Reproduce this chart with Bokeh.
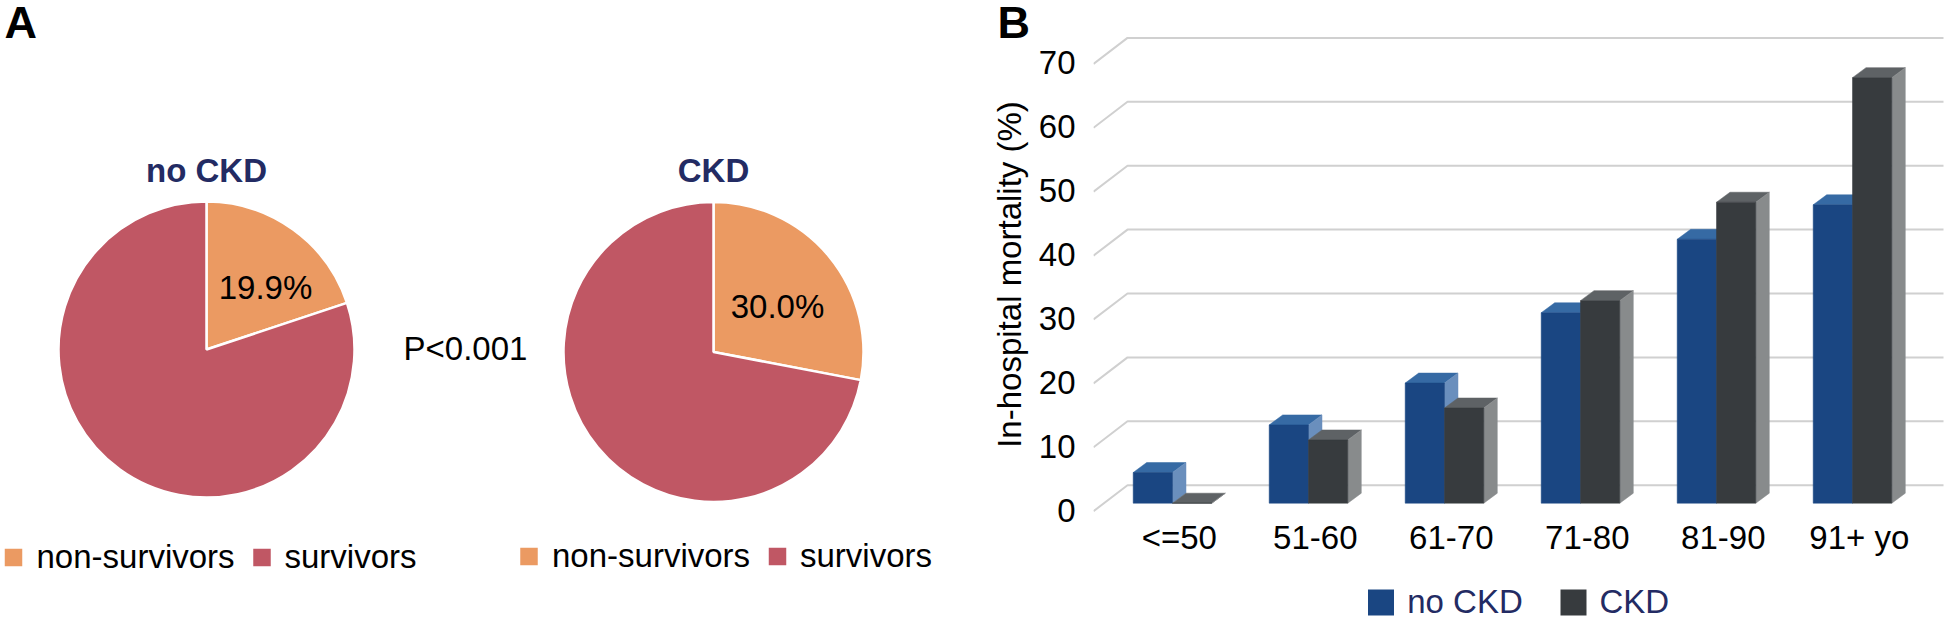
from math import pi
from bokeh.plotting import figure
from bokeh.layouts import row
from bokeh.models import (ColumnDataSource, LinearAxis, Range1d, FixedTicker)
from bokeh.core.properties import value
from bokeh.embed import file_html
from bokeh.resources import INLINE

# ---- data ----
pie_labels = ["non-survivors", "survivors"]
pie_no_ckd = [19.9, 80.1]
pie_ckd = [28.0, 72.0]          # slice as drawn in the picture
pie_no_ckd_text = "19.9%"
pie_ckd_text = "30.0%"
p_text = "P<0.001"
age_groups = ["<=50", "51-60", "61-70", "71-80", "81-90", "91+ yo"]
series_names = ["no CKD", "CKD"]
mortality_no_ckd = [4.8, 12.25, 18.8, 29.8, 41.3, 46.7]
mortality_ckd = [0.0, 9.9, 14.9, 31.7, 47.1, 66.6]
y_ticks = [0, 10, 20, 30, 40, 50, 60, 70]

# ---- styles ----
FONT = "Liberation Sans"
ORANGE, RED = "#EB9A62", "#C05764"
NAVY = "#232B63"
BLUE = ("#1A4682", "#366AA4", "#6A8FBD")
DARK = ("#373B3E", "#5E6265", "#888B8C")
GRID = "#D0D0D0"
FS = "33px"
TOP, BOTTOM = 28, 520
MID = 11.5          # pixels from a 33px text's baseline up to its middle

# ---- panel A ----
a = figure(frame_width=970, frame_height=BOTTOM - TOP, x_range=(0, 970),
           y_range=(621 - BOTTOM, 621 - TOP), output_backend="svg", toolbar_location=None,
           min_border_left=0, min_border_right=0, min_border_top=TOP,
           min_border_bottom=621 - BOTTOM, outline_line_color=None,
           x_axis_location=None, y_axis_location=None)
a.grid.visible = False


def pie(values, cx, cy, r):
    total = sum(values)
    starts, ends, ang = [], [], pi / 2
    for v in values:
        starts.append(ang)
        ang -= 2 * pi * v / total
        ends.append(ang)
    src = ColumnDataSource(dict(x=[cx, cx], y=[621 - cy, 621 - cy], s=starts, e=ends,
                                c=[ORANGE, RED], label=pie_labels))
    return a.wedge(x="x", y="y", radius=r, start_angle="s", end_angle="e", direction="clock",
                   fill_color="c", line_color="white", line_width=2.5, source=src)


pie(pie_no_ckd, 206, 349, 148)
pie(pie_ckd, 713, 351.5, 150)


def txt(fig, x, y, s, size=FS, color="black", style="normal", align="center"):
    """y is the page row of the text's baseline."""
    fig.text(x=[x], y=[621 - y + MID], text=[s], text_font=value(FONT), text_font_size=size,
             text_color=color, text_font_style=style, text_align=align,
             text_baseline="middle", level="overlay")


txt(a, 206, 181, "no CKD", color=NAVY, style="bold")
txt(a, 713, 181, "CKD", color=NAVY, style="bold")
txt(a, 265, 298, pie_no_ckd_text)
txt(a, 777, 317.5, pie_ckd_text)
txt(a, 465, 359.5, p_text)
a.text(x=[4], y=[621 - 21.5], text=["A"], text_font=value(FONT), text_font_size="45px",
       text_color="black", text_font_style="bold", text_align="left", text_baseline="middle",
       level="overlay")

# keys under the pies
for dx, dy in ((0, 0), (515.5, -1)):
    for label, colour, sx, tx in zip(pie_labels, (ORANGE, RED), (13, 261.5), (36, 284)):
        a.rect(x=[sx + dx], y=[621 - (557 + dy)], width=17.5, height=17.5, fill_color=colour,
               line_color=None, level="overlay")
        txt(a, tx + dx, 567 + dy, label, align="left")

# ---- panel B ----
PX = 6.39           # pixels per percentage point
UNIT = 136.0        # pixels per age group
BASE = 502.7        # pixel row of value 0 on the bars' front
BW = 39.3 / UNIT
DX = 13.5 / UNIT
DY = 10 / PX
BACK = 18 / PX
FRONT = -8 / PX
y0, y1 = (BASE - BOTTOM) / PX, (BASE - TOP) / PX
x0, x1 = (1093 - 1172) / UNIT, (1950 - 1172) / UNIT


def bx(px):
    return (px - 1172) / UNIT


def by(px):
    return (BASE - px) / PX


b = figure(frame_width=857, frame_height=BOTTOM - TOP, x_range=(x0, x1), y_range=(y0, y1),
           output_backend="svg", toolbar_location=None, min_border_left=123, min_border_right=0,
           min_border_top=TOP, min_border_bottom=621 - BOTTOM, outline_line_color=None,
           x_axis_location=None, y_axis_location=None)
b.grid.visible = False
b.extra_y_ranges["front"] = Range1d(y0 - FRONT - 1 / PX, y1 - FRONT - 1 / PX)
b.extra_x_ranges["cat"] = Range1d(x0 - 0.05, x1 - 0.05)

yax = LinearAxis(y_range_name="front", ticker=FixedTicker(ticks=y_ticks),
                 axis_line_color=None, major_tick_line_color=None, minor_tick_line_color=None,
                 major_label_text_font=FONT, major_label_text_font_size=FS,
                 major_label_text_color="black", major_label_standoff=12,
                 axis_label="In-hospital mortality (%)", axis_label_text_font=FONT,
                 axis_label_text_font_size=FS, axis_label_text_font_style="normal",
                 axis_label_text_color="black", axis_label_standoff=8)
b.add_layout(yax, "left")
xax = LinearAxis(x_range_name="cat", ticker=FixedTicker(ticks=list(range(len(age_groups)))),
                 major_label_overrides={i: g for i, g in enumerate(age_groups)},
                 axis_line_color=None, major_tick_line_color=None, minor_tick_line_color=None,
                 major_label_text_font=FONT, major_label_text_font_size=FS,
                 major_label_text_color="black", major_label_standoff=-8)
b.add_layout(xax, "below")

# gridlines: slanted floor part, then the back wall
xb = x0 + 34 / UNIT
b.multi_line(xs=[[x0, xb, bx(1943)] for _ in y_ticks],
             ys=[[t + FRONT, t + BACK, t + BACK] for t in y_ticks],
             line_color=GRID, line_width=2)


def bars(vals, offset, colors):
    idx = list(range(len(vals)))
    left = [i + offset for i in idx]
    right = [l + BW for l in left]
    top_xs = [[l, r, r + DX, l + DX] for l, r in zip(left, right)]
    top_ys = [[v, v, v + DY, v + DY] for v in vals]
    side_xs = [[r, r + DX, r + DX, r] for r in right]
    side_ys = [[0, DY, v + DY, v] for v in vals]
    b.patches(top_xs, top_ys, fill_color=colors[1], line_color=colors[1], line_width=0.5)
    b.patches(side_xs, side_ys, fill_color=colors[2], line_color=colors[2], line_width=0.5)
    return b.vbar(x=[i + offset + BW / 2 for i in idx], top=vals, bottom=0, width=BW,
                  fill_color=colors[0], line_color=colors[0], line_width=0.5)


bars(mortality_no_ckd, -BW, BLUE)
bars(mortality_ckd, 0, DARK)

# series key below the axis
for name, colour, sx, tx in zip(series_names, (BLUE[0], DARK[0]), (1380.5, 1573), (1406.7, 1599)):
    b.rect(x=[bx(sx)], y=[by(602)], width=26 / UNIT, height=26 / PX, fill_color=colour,
           line_color=None, level="overlay")
    b.text(x=[bx(tx)], y=[by(612.7 - MID)], text=[name], text_font=value(FONT), text_font_size=FS,
           text_color=NAVY, text_align="left", text_baseline="middle", level="overlay")

b.text(x=[bx(997)], y=[by(21.5)], text=["B"], text_font=value(FONT), text_color="black",
       text_font_size="45px", text_font_style="bold", text_align="left", text_baseline="middle",
       level="overlay")

page = row(a, b, spacing=0)
open("out.html", "w").write(file_html(page, INLINE))
